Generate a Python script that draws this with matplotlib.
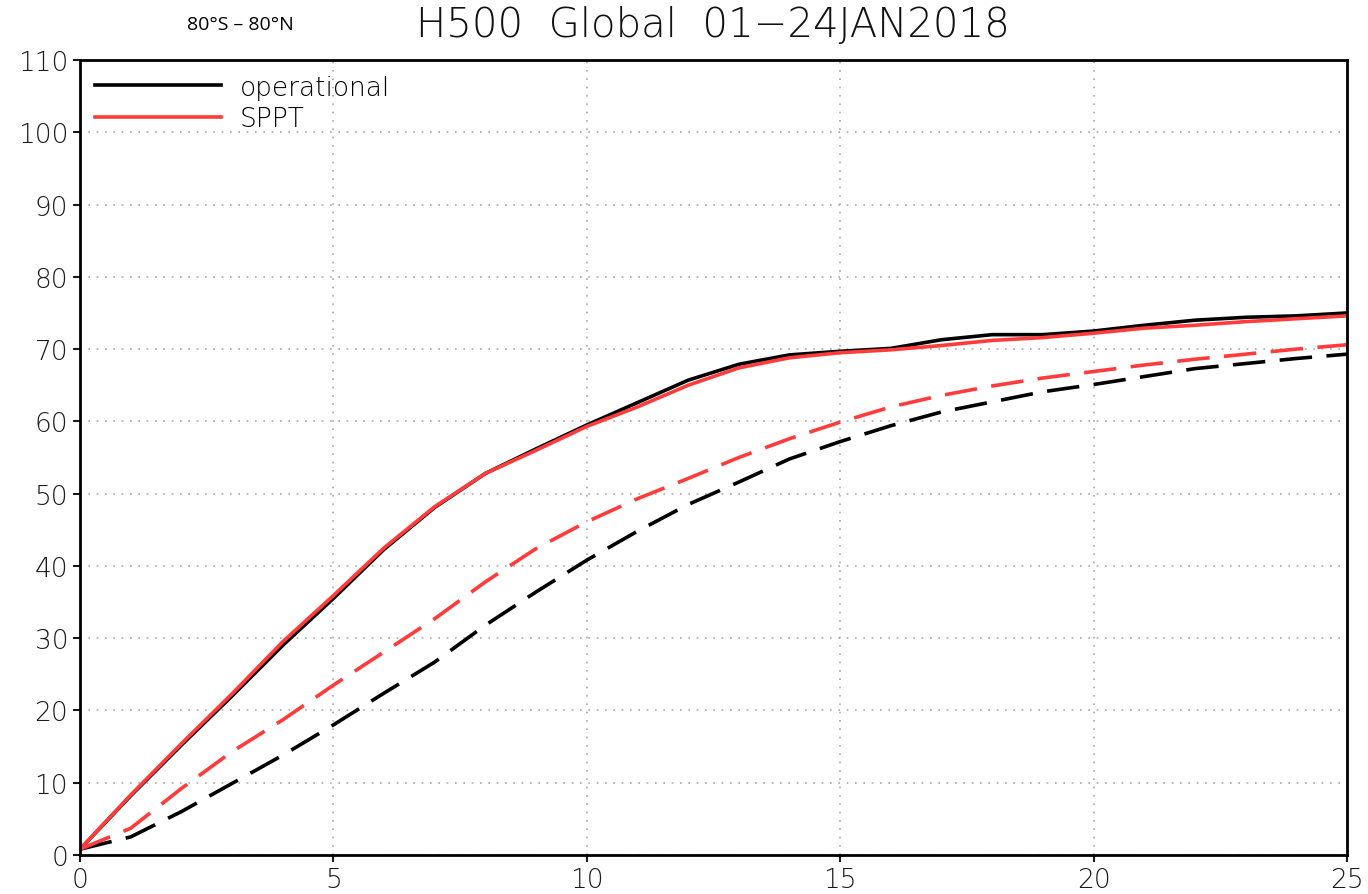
import matplotlib.pyplot as plt
import numpy as np

# forecast day
days = np.arange(0, 26)

# solid lines
oper_solid = [0.8, 8.2, 15.2, 22.0, 29.0, 35.5, 42.3, 48.1, 52.8, 56.2, 59.5, 62.6, 65.7, 67.9, 69.2, 69.7,
              70.1, 71.3, 72.0, 72.0, 72.5, 73.3, 74.0, 74.4, 74.6, 75.0]
sppt_solid = [0.8, 8.3, 15.4, 22.3, 29.5, 35.9, 42.5, 48.2, 52.8, 56.0, 59.3, 62.0, 65.0, 67.4, 68.8, 69.5,
              69.9, 70.5, 71.2, 71.6, 72.2, 72.9, 73.3, 73.8, 74.2, 74.6]
# dashed lines
oper_dash = [0.8, 2.5, 6.0, 9.9, 13.8, 18.0, 22.4, 26.7, 31.8, 36.4, 40.8, 44.8, 48.5, 51.6, 54.8, 57.2,
             59.4, 61.3, 62.7, 64.1, 65.1, 66.2, 67.3, 68.0, 68.7, 69.3]
sppt_dash = [0.8, 3.7, 9.2, 14.3, 18.7, 23.5, 28.1, 32.7, 37.8, 42.4, 46.1, 49.3, 52.1, 55.0, 57.6, 59.9,
             62.0, 63.6, 64.9, 66.0, 66.9, 67.8, 68.6, 69.3, 70.0, 70.6]

red = '#ff3b3b'
plt.rcParams['font.weight'] = 'light'

fig = plt.figure(figsize=(13.68, 8.95), dpi=100)
ax = fig.add_axes([0.0585, 0.0436, 0.9261, 0.8882])

ax.plot(days, oper_solid, color='black', lw=2.6, label='operational')
ax.plot(days, sppt_solid, color=red, lw=2.6, label='SPPT')
ax.plot(days, oper_dash, color='black', lw=2.6, dashes=(9, 4))
ax.plot(days, sppt_dash, color=red, lw=2.6, dashes=(9, 4))

ax.set_xlim(0, 25)
ax.set_ylim(0, 110)
ax.set_xticks(np.arange(0, 26, 5))
ax.set_yticks(np.arange(0, 111, 10))
ax.tick_params(labelsize=19, direction='out', length=5, width=1.5, colors='#1a1a1a')
ax.grid(True, color='#aaaaaa', linestyle=(0, (1, 4)), lw=1.2)
for s in ax.spines.values():
    s.set_linewidth(2)

ax.legend(loc='upper left', frameon=False, fontsize=19, handlelength=4.8,
          borderaxespad=0.15, labelspacing=0.25, handletextpad=0.7)

fig.text(0.521, 0.972, 'H500  Global  01\u221224JAN2018', ha='center', va='center', fontsize=29, color='#111111')
fig.text(0.176, 0.972, '80\u00b0S \u2013 80\u00b0N', ha='center', va='center', fontsize=14,
         family='Open Sans', fontweight='normal')

plt.savefig('out.png', dpi=100)
